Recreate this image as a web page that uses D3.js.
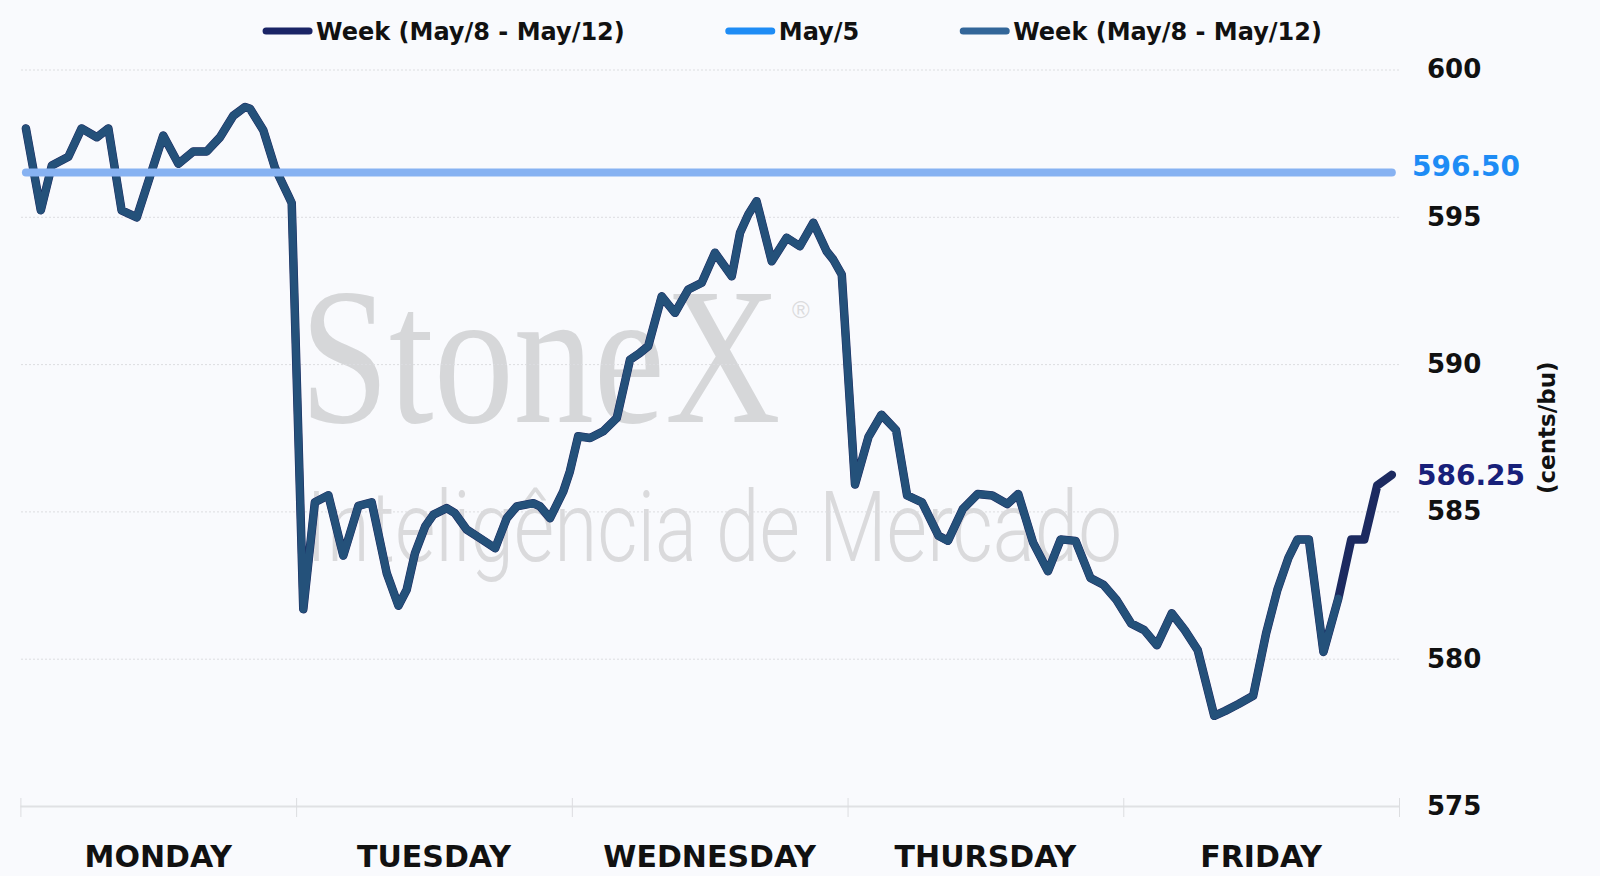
<!DOCTYPE html>
<html>
<head>
<meta charset="utf-8">
<script src="https://cdnjs.cloudflare.com/ajax/libs/d3/7.8.5/d3.min.js"></script>
<style>
  html, body { margin: 0; padding: 0; background: #f9fafd; }
  svg { display: block; }
</style>
</head>
<body>
<div id="chart"></div>
<script>
// chart data (time in trading days from Monday open)
const days = ['MONDAY', 'TUESDAY', 'WEDNESDAY', 'THURSDAY', 'FRIDAY'];
const yTicks = [575, 580, 585, 590, 595, 600];
const seriesNames = ['Week (May/8 - May/12)', 'May/5', 'Week (May/8 - May/12)'];
const prevClose = 596.5;

const weekTimes = [
  0.020, 0.074, 0.114, 0.150, 0.174, 0.222, 0.277, 0.319, 0.367, 0.422,
  0.518, 0.573, 0.627, 0.676, 0.724, 0.772, 0.815, 0.833, 0.881, 0.923,
  0.972, 0.984, 1.026, 1.068, 1.117, 1.171, 1.226, 1.274, 1.329, 1.371,
  1.401, 1.431, 1.468, 1.498, 1.546, 1.576, 1.619, 1.667, 1.722, 1.764,
  1.800, 1.860, 1.885, 1.921, 1.969, 1.993, 2.023, 2.066, 2.114, 2.163,
  2.211, 2.247, 2.277, 2.326, 2.374, 2.422, 2.471, 2.519, 2.580, 2.610,
  2.640, 2.670, 2.725, 2.779, 2.827, 2.876, 2.924, 2.948, 2.979, 3.027,
  3.076, 3.123, 3.176, 3.216, 3.270, 3.330, 3.364, 3.418, 3.472, 3.525,
  3.579, 3.619, 3.673, 3.727, 3.773, 3.827, 3.881, 3.928, 3.975, 4.028,
  4.076, 4.122, 4.176, 4.223, 4.270, 4.330, 4.370, 4.418, 4.471, 4.518,
  4.559, 4.599, 4.632, 4.673, 4.726, 4.780, 4.827, 4.874, 4.921, 4.974
];
const weekValues = [
  598.00, 595.22, 596.74, 596.92, 597.04, 598.00, 597.70, 598.00, 595.22, 594.98,
  597.76, 596.80, 597.22, 597.22, 597.70, 598.43, 598.73, 598.67, 597.94, 596.67,
  595.71, 595.47, 581.68, 585.31, 585.55, 583.50, 585.19, 585.31, 582.89, 581.80,
  582.34, 583.58, 584.49, 584.89, 585.11, 584.94, 584.38, 584.09, 583.75, 584.77,
  585.17, 585.28, 585.17, 584.77, 585.68, 586.36, 587.55, 587.49, 587.72, 588.17,
  590.15, 590.38, 590.61, 592.30, 591.74, 592.53, 592.76, 593.78, 592.98, 594.46,
  595.08, 595.53, 593.49, 594.29, 594.00, 594.80, 593.83, 593.55, 593.04, 585.91,
  587.53, 588.28, 587.76, 585.54, 585.31, 584.17, 584.00, 585.08, 585.59, 585.54,
  585.25, 585.59, 583.94, 582.97, 584.05, 584.00, 582.74, 582.51, 582.00, 581.20,
  580.97, 580.46, 581.54, 580.97, 580.29, 578.06, 578.23, 578.46, 578.74, 580.86,
  582.34, 583.42, 584.05, 584.05, 580.23, 582.05, 584.05, 584.05, 585.88, 586.24
];
// second (steel) series stops a little before Friday close
const week2Count = 106;

const colors = ['#1a2466', '#1e8cf5', '#336699'];
const lineColors = ['#1c2a60', '#87b2f2', '#24517a'];

const W = 1600, H = 876;
const margin = { left: 20.4, right: 1399, top: 69.5, bottom: 806 };

const svg = d3.select('#chart').append('svg')
  .attr('width', W).attr('height', H)
  .style('font-family', '"DejaVu Sans", sans-serif');

svg.append('rect').attr('width', W).attr('height', H).attr('fill', '#f9fafd');

const x = d3.scaleLinear().domain([0, days.length]).range([margin.left, margin.right]);
const y = d3.scaleLinear().domain([575, 600]).range([margin.bottom, margin.top]);
const xBand = d3.scaleBand().domain(days).range([margin.left, margin.right]);

// watermark
svg.append('text')
  .attr('transform', 'translate(300,422) scale(0.826,1)')
  .attr('font-family', '"Liberation Serif", serif')
  .attr('font-size', 194)
  .attr('fill', '#d6d7d9')
  .text('StoneX');
svg.append('text')
  .attr('x', 792).attr('y', 318)
  .attr('font-family', '"Liberation Sans", sans-serif')
  .attr('font-size', 24)
  .attr('fill', '#dcdcde')
  .text('®');
svg.append('text')
  .attr('x', 306).attr('y', 561)
  .attr('font-family', 'Roboto, sans-serif')
  .attr('font-weight', 300)
  .attr('font-size', 98)
  .attr('textLength', 816).attr('lengthAdjust', 'spacingAndGlyphs')
  .attr('fill', '#dadadc')
  .text('Inteligência de Mercado');

// y axis on the right with dotted grid
const yAxis = svg.append('g')
  .attr('transform', `translate(${margin.right},0)`)
  .call(d3.axisRight(y).tickValues(yTicks)
    .tickSize(-(margin.right - margin.left)).tickPadding(28));
yAxis.select('.domain').remove();
yAxis.selectAll('.tick line')
  .attr('stroke', '#dcdde0')
  .attr('stroke-dasharray', '2,2');
yAxis.selectAll('.tick').filter((d) => d === 575).select('line')
  .attr('stroke-dasharray', null).attr('stroke-width', 2).attr('stroke', '#e0e1e4');
yAxis.selectAll('.tick text')
  .attr('font-family', '"DejaVu Sans", sans-serif')
  .attr('font-size', 26).attr('font-weight', 'bold')
  .attr('fill', '#111').attr('x', 28).attr('text-anchor', 'start');

// day boundary ticks
const xAxis = svg.append('g')
  .attr('transform', `translate(0,${margin.bottom - 8})`)
  .call(d3.axisBottom(x).tickValues(d3.range(days.length + 1)).tickSize(19).tickFormat(''));
xAxis.select('.domain').remove();
xAxis.selectAll('.tick line').attr('stroke', '#dcdde0');

svg.append('g').selectAll('text')
  .data(days).enter().append('text')
  .attr('x', (d) => xBand(d) + xBand.bandwidth() / 2)
  .attr('y', 867)
  .attr('text-anchor', 'middle')
  .attr('font-size', 30).attr('font-weight', 'bold')
  .attr('fill', '#111')
  .text((d) => d);

// lines
const week = weekTimes.map((t, i) => ({ t, v: weekValues[i] }));
const week2 = week.slice(0, week2Count);
const line = d3.line().x((d) => x(d.t)).y((d) => y(d.v));
const refData = [
  { t: weekTimes[0], v: prevClose },
  { t: weekTimes[weekTimes.length - 1], v: prevClose },
];

svg.append('path').datum(week)
  .attr('d', line).attr('fill', 'none')
  .attr('stroke', lineColors[0]).attr('stroke-width', 8.5)
  .attr('stroke-linejoin', 'round').attr('stroke-linecap', 'round');

svg.append('path').datum(week2)
  .attr('d', line).attr('fill', 'none')
  .attr('stroke', lineColors[2]).attr('stroke-width', 7.5)
  .attr('stroke-linejoin', 'round').attr('stroke-linecap', 'round');

svg.append('path').datum(refData)
  .attr('d', line).attr('fill', 'none')
  .attr('stroke', lineColors[1]).attr('stroke-width', 8)
  .attr('stroke-linecap', 'round');

// end labels
svg.append('text')
  .attr('x', 1412).attr('y', y(prevClose) + 3)
  .attr('font-size', 28).attr('font-weight', 'bold')
  .attr('fill', colors[1])
  .text(prevClose.toFixed(2));
const last = weekValues[weekValues.length - 1];
svg.append('text')
  .attr('x', 1417).attr('y', y(last) + 10)
  .attr('font-size', 28).attr('font-weight', 'bold')
  .attr('fill', '#18207a')
  .text((Math.round(last * 4) / 4).toFixed(2));

// y axis title
svg.append('text')
  .attr('transform', `translate(1555,${(margin.top + margin.bottom) / 2 - 10}) rotate(-90)`)
  .attr('text-anchor', 'middle')
  .attr('font-size', 23).attr('font-weight', 'bold')
  .attr('fill', '#111')
  .text('(cents/bu)');

// legend
const legend = svg.append('g');
let cursor = 0;
seriesNames.forEach((name, i) => {
  const g = legend.append('g');
  g.append('line')
    .attr('x1', 4).attr('x2', 47).attr('y1', 0).attr('y2', 0)
    .attr('stroke', colors[i]).attr('stroke-width', 7)
    .attr('stroke-linecap', 'round');
  const t = g.append('text')
    .attr('x', 54).attr('y', 9)
    .attr('font-size', 24).attr('font-weight', 'bold')
    .attr('fill', '#111')
    .text(name);
  const w = 54 + t.node().getComputedTextLength();
  g.attr('transform', `translate(${cursor},0)`);
  cursor += w + 100;
});
const legendWidth = cursor - 100;
legend.attr('transform', `translate(${W / 2 - legendWidth / 2 - 8},31)`);
</script>
</body>
</html>
